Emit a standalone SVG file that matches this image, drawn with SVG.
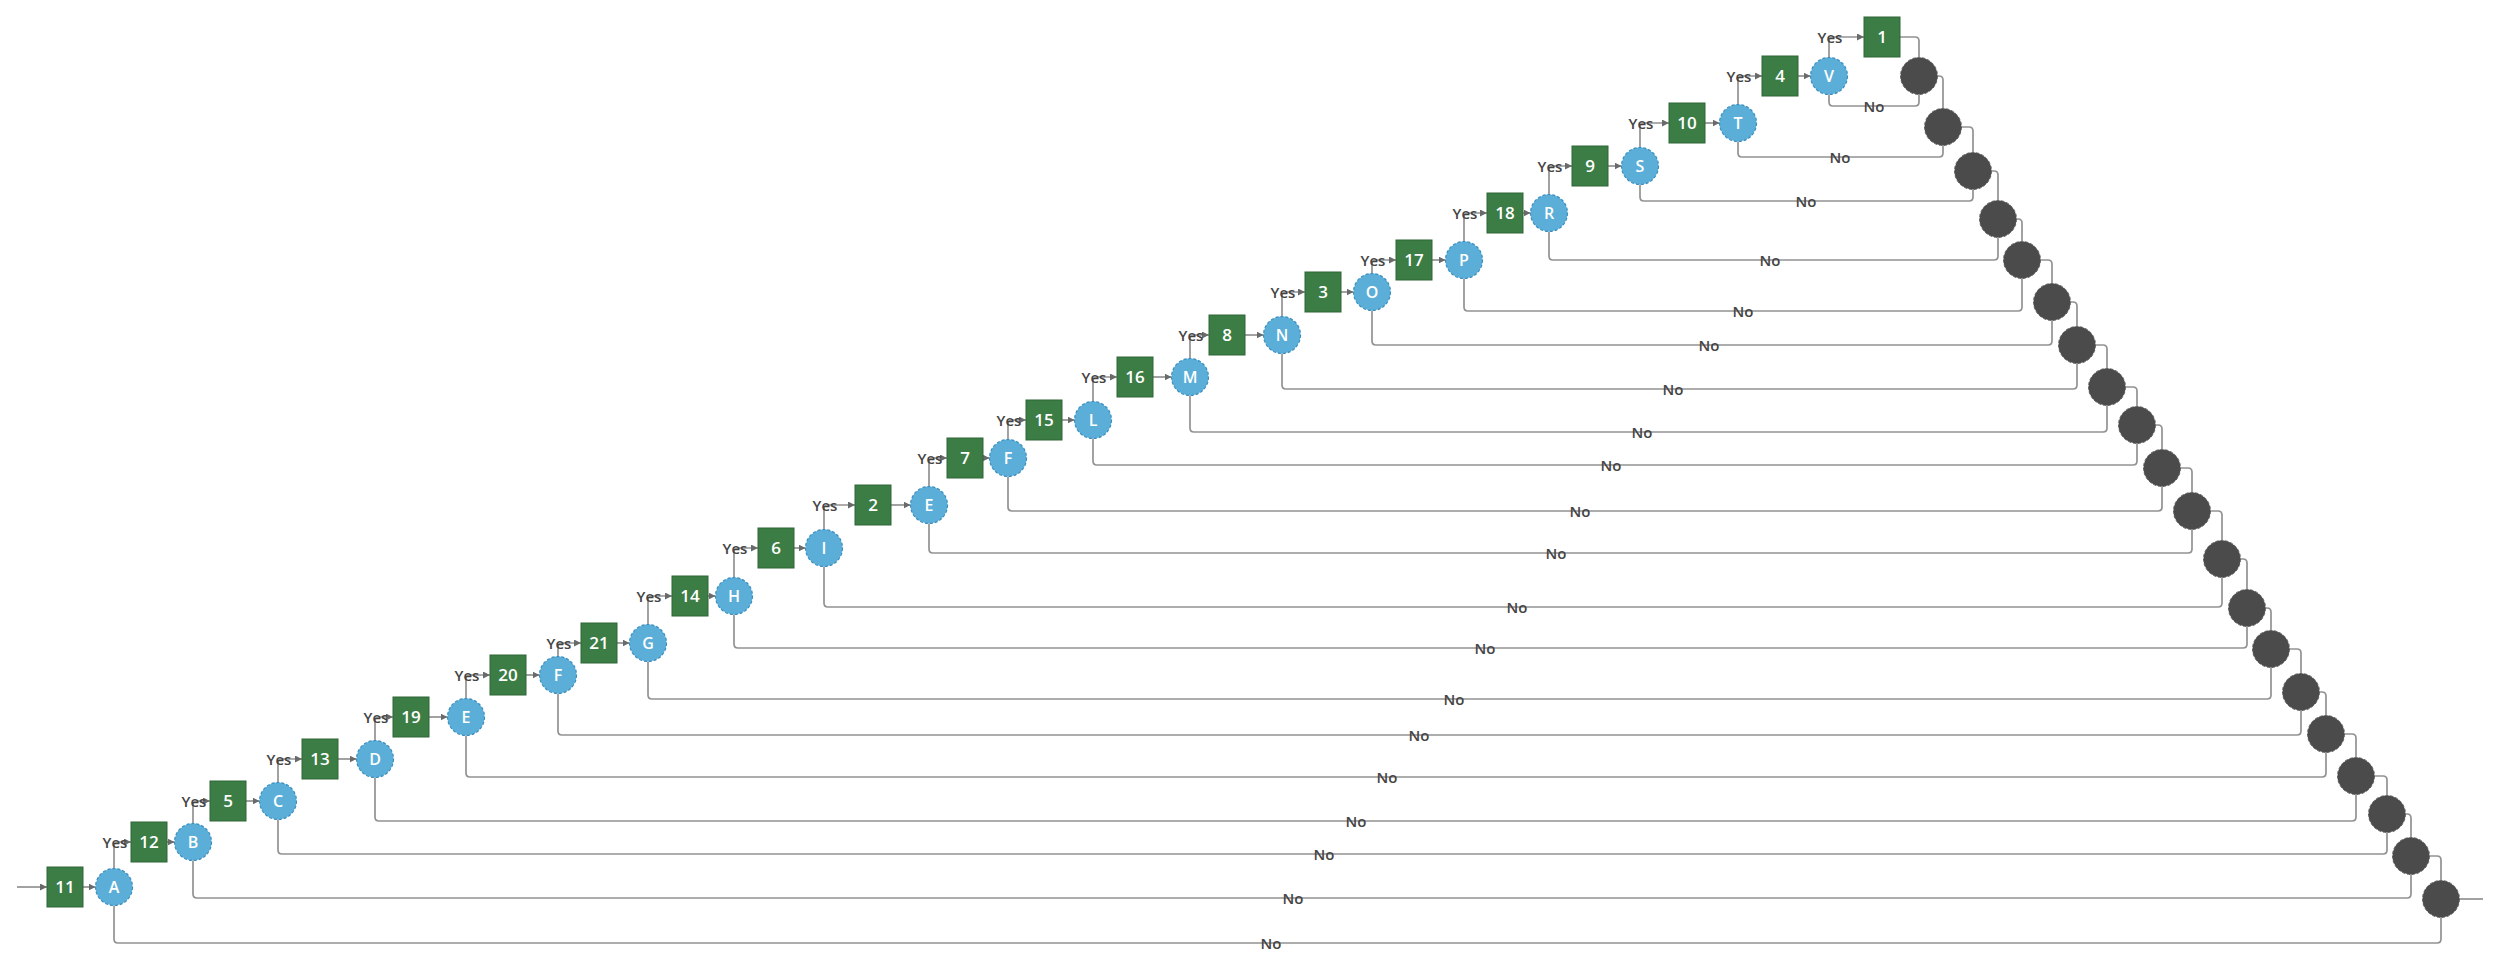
<svg xmlns="http://www.w3.org/2000/svg" width="2498" height="979" viewBox="0 0 2498 979">
<defs>
<marker id="arr" markerUnits="userSpaceOnUse" markerWidth="7" markerHeight="7" refX="7" refY="3.5" orient="auto">
<path d="M0,0 L7,3.5 L0,7 z" fill="#6a6a6a"/>
</marker>
<style>
.bg{fill:#ffffff}
.ln{fill:none;stroke:#929292;stroke-width:1.7}
.ya{marker-end:url(#arr)}
.sq{fill:#3c7d45;stroke:#2e6636;stroke-width:1}
.dc{fill:#5aaed7;stroke:#3b8fc0;stroke-width:1.2;stroke-dasharray:3 2}
.mg{fill:#4b4b4b;stroke:#5e5e5e;stroke-width:1;stroke-dasharray:3 2}
.st{font-family:"Open Sans","Liberation Sans",sans-serif;font-size:17px;font-weight:600;fill:#ffffff;text-anchor:middle}
.ct{font-family:"Open Sans","Liberation Sans",sans-serif;font-size:16px;font-weight:600;fill:#ffffff;text-anchor:middle}
.lb{font-family:"Open Sans","Liberation Sans",sans-serif;font-size:15px;font-weight:600;fill:#444444;text-anchor:middle}
</style>
</defs>
<rect class="bg" x="0" y="0" width="2498" height="979"/>
<g id="connectors">
<path class="ln ya" d="M17,887 H47"/>
<path class="ln ya" d="M83,887 H95.5"/>
<path class="ln ya" d="M167,842 H174.5"/>
<path class="ln ya" d="M246,801 H259.5"/>
<path class="ln ya" d="M338,759 H356.5"/>
<path class="ln ya" d="M429,717 H447.5"/>
<path class="ln ya" d="M526,675 H539.5"/>
<path class="ln ya" d="M617,643 H629.5"/>
<path class="ln ya" d="M708,596 H715.5"/>
<path class="ln ya" d="M794,548 H805.5"/>
<path class="ln ya" d="M891,505 H910.5"/>
<path class="ln ya" d="M983,458 H989.5"/>
<path class="ln ya" d="M1062,420 H1074.5"/>
<path class="ln ya" d="M1153,377 H1171.5"/>
<path class="ln ya" d="M1245,335 H1263.5"/>
<path class="ln ya" d="M1341,292 H1353.5"/>
<path class="ln ya" d="M1432,260 H1445.5"/>
<path class="ln ya" d="M1523,213 H1530.5"/>
<path class="ln ya" d="M1608,166 H1621.5"/>
<path class="ln ya" d="M1705,123 H1719.5"/>
<path class="ln ya" d="M1798,76 H1810.5"/>
<path class="ln ya" d="M114,868.5 V846 Q114,842 118,842 H131"/>
<path class="ln ya" d="M193,823.5 V805 Q193,801 197,801 H210"/>
<path class="ln ya" d="M278,782.5 V763 Q278,759 282,759 H302"/>
<path class="ln ya" d="M375,740.5 V721 Q375,717 379,717 H393"/>
<path class="ln ya" d="M466,698.5 V679 Q466,675 470,675 H490"/>
<path class="ln ya" d="M558,656.5 V647 Q558,643 562,643 H581"/>
<path class="ln ya" d="M648,624.5 V600 Q648,596 652,596 H672"/>
<path class="ln ya" d="M734,577.5 V552 Q734,548 738,548 H758"/>
<path class="ln ya" d="M824,529.5 V509 Q824,505 828,505 H855"/>
<path class="ln ya" d="M929,486.5 V462 Q929,458 933,458 H947"/>
<path class="ln ya" d="M1008,439.5 V424 Q1008,420 1012,420 H1026"/>
<path class="ln ya" d="M1093,401.5 V381 Q1093,377 1097,377 H1117"/>
<path class="ln ya" d="M1190,358.5 V339 Q1190,335 1194,335 H1209"/>
<path class="ln ya" d="M1282,316.5 V296 Q1282,292 1286,292 H1305"/>
<path class="ln ya" d="M1372,273.5 V264 Q1372,260 1376,260 H1396"/>
<path class="ln ya" d="M1464,241.5 V217 Q1464,213 1468,213 H1487"/>
<path class="ln ya" d="M1549,194.5 V170 Q1549,166 1553,166 H1572"/>
<path class="ln ya" d="M1640,147.5 V127 Q1640,123 1644,123 H1669"/>
<path class="ln ya" d="M1738,104.5 V80 Q1738,76 1742,76 H1762"/>
<path class="ln ya" d="M1829,57.5 V41 Q1829,37 1833,37 H1864"/>
<path class="ln" d="M1829,94.5 V102 Q1829,106 1833,106 H1915 Q1919,106 1919,102 V94.5"/>
<path class="ln" d="M1738,141.5 V153 Q1738,157 1742,157 H1939 Q1943,157 1943,153 V145.5"/>
<path class="ln" d="M1640,184.5 V197 Q1640,201 1644,201 H1969 Q1973,201 1973,197 V189.5"/>
<path class="ln" d="M1549,231.5 V256 Q1549,260 1553,260 H1994 Q1998,260 1998,256 V237.5"/>
<path class="ln" d="M1464,278.5 V307 Q1464,311 1468,311 H2018 Q2022,311 2022,307 V278.5"/>
<path class="ln" d="M1372,310.5 V341 Q1372,345 1376,345 H2048 Q2052,345 2052,341 V320.5"/>
<path class="ln" d="M1282,353.5 V385 Q1282,389 1286,389 H2073 Q2077,389 2077,385 V363.5"/>
<path class="ln" d="M1190,395.5 V428 Q1190,432 1194,432 H2103 Q2107,432 2107,428 V405.5"/>
<path class="ln" d="M1093,438.5 V461 Q1093,465 1097,465 H2133 Q2137,465 2137,461 V443.5"/>
<path class="ln" d="M1008,476.5 V507 Q1008,511 1012,511 H2158 Q2162,511 2162,507 V486.5"/>
<path class="ln" d="M929,523.5 V549 Q929,553 933,553 H2188 Q2192,553 2192,549 V529.5"/>
<path class="ln" d="M824,566.5 V603 Q824,607 828,607 H2218 Q2222,607 2222,603 V577.5"/>
<path class="ln" d="M734,614.5 V644 Q734,648 738,648 H2243 Q2247,648 2247,644 V626.5"/>
<path class="ln" d="M648,661.5 V695 Q648,699 652,699 H2267 Q2271,699 2271,695 V667.5"/>
<path class="ln" d="M558,693.5 V731 Q558,735 562,735 H2297 Q2301,735 2301,731 V710.5"/>
<path class="ln" d="M466,735.5 V773 Q466,777 470,777 H2322 Q2326,777 2326,773 V752.5"/>
<path class="ln" d="M375,777.5 V817 Q375,821 379,821 H2352 Q2356,821 2356,817 V794.5"/>
<path class="ln" d="M278,819.5 V850 Q278,854 282,854 H2383 Q2387,854 2387,850 V832.5"/>
<path class="ln" d="M193,860.5 V894 Q193,898 197,898 H2407 Q2411,898 2411,894 V874.5"/>
<path class="ln" d="M114,905.5 V939 Q114,943 118,943 H2437 Q2441,943 2441,939 V917.5"/>
<path class="ln" d="M1900,37 H1915 Q1919,37 1919,41 V57.5"/>
<path class="ln" d="M1937.5,76 H1939 Q1943,76 1943,80 V108.5"/>
<path class="ln" d="M1961.5,127 H1969 Q1973,127 1973,131 V152.5"/>
<path class="ln" d="M1991.5,171 H1994 Q1998,171 1998,175 V200.5"/>
<path class="ln" d="M2016.5,219 H2018 Q2022,219 2022,223 V241.5"/>
<path class="ln" d="M2040.5,260 H2048 Q2052,260 2052,264 V283.5"/>
<path class="ln" d="M2070.5,302 H2073 Q2077,302 2077,306 V326.5"/>
<path class="ln" d="M2095.5,345 H2103 Q2107,345 2107,349 V368.5"/>
<path class="ln" d="M2125.5,387 H2133 Q2137,387 2137,391 V406.5"/>
<path class="ln" d="M2155.5,425 H2158 Q2162,425 2162,429 V449.5"/>
<path class="ln" d="M2180.5,468 H2188 Q2192,468 2192,472 V492.5"/>
<path class="ln" d="M2210.5,511 H2218 Q2222,511 2222,515 V540.5"/>
<path class="ln" d="M2240.5,559 H2243 Q2247,559 2247,563 V589.5"/>
<path class="ln" d="M2265.5,608 H2267 Q2271,608 2271,612 V630.5"/>
<path class="ln" d="M2289.5,649 H2297 Q2301,649 2301,653 V673.5"/>
<path class="ln" d="M2319.5,692 H2322 Q2326,692 2326,696 V715.5"/>
<path class="ln" d="M2344.5,734 H2352 Q2356,734 2356,738 V757.5"/>
<path class="ln" d="M2374.5,776 H2383 Q2387,776 2387,780 V795.5"/>
<path class="ln" d="M2405.5,814 H2407 Q2411,814 2411,818 V837.5"/>
<path class="ln" d="M2429.5,856 H2437 Q2441,856 2441,860 V880.5"/>
<path class="ln" d="M2459.5,899 H2483"/>
<text class="lb" x="115" y="848">Yes</text>
<text class="lb" x="194" y="807">Yes</text>
<text class="lb" x="279" y="765">Yes</text>
<text class="lb" x="376" y="723">Yes</text>
<text class="lb" x="467" y="681">Yes</text>
<text class="lb" x="559" y="649">Yes</text>
<text class="lb" x="649" y="602">Yes</text>
<text class="lb" x="735" y="554">Yes</text>
<text class="lb" x="825" y="511">Yes</text>
<text class="lb" x="930" y="464">Yes</text>
<text class="lb" x="1009" y="426">Yes</text>
<text class="lb" x="1094" y="383">Yes</text>
<text class="lb" x="1191" y="341">Yes</text>
<text class="lb" x="1283" y="298">Yes</text>
<text class="lb" x="1373" y="266">Yes</text>
<text class="lb" x="1465" y="219">Yes</text>
<text class="lb" x="1550" y="172">Yes</text>
<text class="lb" x="1641" y="129">Yes</text>
<text class="lb" x="1739" y="82">Yes</text>
<text class="lb" x="1830" y="43">Yes</text>
<text class="lb" x="1874" y="112">No</text>
<text class="lb" x="1840" y="163">No</text>
<text class="lb" x="1806" y="207">No</text>
<text class="lb" x="1770" y="266">No</text>
<text class="lb" x="1743" y="317">No</text>
<text class="lb" x="1709" y="351">No</text>
<text class="lb" x="1673" y="395">No</text>
<text class="lb" x="1642" y="438">No</text>
<text class="lb" x="1611" y="471">No</text>
<text class="lb" x="1580" y="517">No</text>
<text class="lb" x="1556" y="559">No</text>
<text class="lb" x="1517" y="613">No</text>
<text class="lb" x="1485" y="654">No</text>
<text class="lb" x="1454" y="705">No</text>
<text class="lb" x="1419" y="741">No</text>
<text class="lb" x="1387" y="783">No</text>
<text class="lb" x="1356" y="827">No</text>
<text class="lb" x="1324" y="860">No</text>
<text class="lb" x="1293" y="904">No</text>
<text class="lb" x="1271" y="949">No</text>
</g>
<g id="node-11"><rect class="sq" x="47" y="867" width="36" height="40"/><text class="st" x="65" y="893">11</text></g>
<g id="node-12"><rect class="sq" x="131" y="822" width="36" height="40"/><text class="st" x="149" y="848">12</text></g>
<g id="node-5"><rect class="sq" x="210" y="781" width="36" height="40"/><text class="st" x="228" y="807">5</text></g>
<g id="node-13"><rect class="sq" x="302" y="739" width="36" height="40"/><text class="st" x="320" y="765">13</text></g>
<g id="node-19"><rect class="sq" x="393" y="697" width="36" height="40"/><text class="st" x="411" y="723">19</text></g>
<g id="node-20"><rect class="sq" x="490" y="655" width="36" height="40"/><text class="st" x="508" y="681">20</text></g>
<g id="node-21"><rect class="sq" x="581" y="623" width="36" height="40"/><text class="st" x="599" y="649">21</text></g>
<g id="node-14"><rect class="sq" x="672" y="576" width="36" height="40"/><text class="st" x="690" y="602">14</text></g>
<g id="node-6"><rect class="sq" x="758" y="528" width="36" height="40"/><text class="st" x="776" y="554">6</text></g>
<g id="node-2"><rect class="sq" x="855" y="485" width="36" height="40"/><text class="st" x="873" y="511">2</text></g>
<g id="node-7"><rect class="sq" x="947" y="438" width="36" height="40"/><text class="st" x="965" y="464">7</text></g>
<g id="node-15"><rect class="sq" x="1026" y="400" width="36" height="40"/><text class="st" x="1044" y="426">15</text></g>
<g id="node-16"><rect class="sq" x="1117" y="357" width="36" height="40"/><text class="st" x="1135" y="383">16</text></g>
<g id="node-8"><rect class="sq" x="1209" y="315" width="36" height="40"/><text class="st" x="1227" y="341">8</text></g>
<g id="node-3"><rect class="sq" x="1305" y="272" width="36" height="40"/><text class="st" x="1323" y="298">3</text></g>
<g id="node-17"><rect class="sq" x="1396" y="240" width="36" height="40"/><text class="st" x="1414" y="266">17</text></g>
<g id="node-18"><rect class="sq" x="1487" y="193" width="36" height="40"/><text class="st" x="1505" y="219">18</text></g>
<g id="node-9"><rect class="sq" x="1572" y="146" width="36" height="40"/><text class="st" x="1590" y="172">9</text></g>
<g id="node-10"><rect class="sq" x="1669" y="103" width="36" height="40"/><text class="st" x="1687" y="129">10</text></g>
<g id="node-4"><rect class="sq" x="1762" y="56" width="36" height="40"/><text class="st" x="1780" y="82">4</text></g>
<g id="node-1"><rect class="sq" x="1864" y="17" width="36" height="40"/><text class="st" x="1882" y="43">1</text></g>
<g id="node-A"><circle class="dc" cx="114" cy="887" r="18.5"/><text class="ct" x="114" y="893">A</text></g>
<g id="node-B"><circle class="dc" cx="193" cy="842" r="18.5"/><text class="ct" x="193" y="848">B</text></g>
<g id="node-C"><circle class="dc" cx="278" cy="801" r="18.5"/><text class="ct" x="278" y="807">C</text></g>
<g id="node-D"><circle class="dc" cx="375" cy="759" r="18.5"/><text class="ct" x="375" y="765">D</text></g>
<g id="node-E-1"><circle class="dc" cx="466" cy="717" r="18.5"/><text class="ct" x="466" y="723">E</text></g>
<g id="node-F-1"><circle class="dc" cx="558" cy="675" r="18.5"/><text class="ct" x="558" y="681">F</text></g>
<g id="node-G"><circle class="dc" cx="648" cy="643" r="18.5"/><text class="ct" x="648" y="649">G</text></g>
<g id="node-H"><circle class="dc" cx="734" cy="596" r="18.5"/><text class="ct" x="734" y="602">H</text></g>
<g id="node-I"><circle class="dc" cx="824" cy="548" r="18.5"/><text class="ct" x="824" y="554">I</text></g>
<g id="node-E-2"><circle class="dc" cx="929" cy="505" r="18.5"/><text class="ct" x="929" y="511">E</text></g>
<g id="node-F-2"><circle class="dc" cx="1008" cy="458" r="18.5"/><text class="ct" x="1008" y="464">F</text></g>
<g id="node-L"><circle class="dc" cx="1093" cy="420" r="18.5"/><text class="ct" x="1093" y="426">L</text></g>
<g id="node-M"><circle class="dc" cx="1190" cy="377" r="18.5"/><text class="ct" x="1190" y="383">M</text></g>
<g id="node-N"><circle class="dc" cx="1282" cy="335" r="18.5"/><text class="ct" x="1282" y="341">N</text></g>
<g id="node-O"><circle class="dc" cx="1372" cy="292" r="18.5"/><text class="ct" x="1372" y="298">O</text></g>
<g id="node-P"><circle class="dc" cx="1464" cy="260" r="18.5"/><text class="ct" x="1464" y="266">P</text></g>
<g id="node-R"><circle class="dc" cx="1549" cy="213" r="18.5"/><text class="ct" x="1549" y="219">R</text></g>
<g id="node-S"><circle class="dc" cx="1640" cy="166" r="18.5"/><text class="ct" x="1640" y="172">S</text></g>
<g id="node-T"><circle class="dc" cx="1738" cy="123" r="18.5"/><text class="ct" x="1738" y="129">T</text></g>
<g id="node-V"><circle class="dc" cx="1829" cy="76" r="18.5"/><text class="ct" x="1829" y="82">V</text></g>
<g id="merge-1"><circle class="mg" cx="1919" cy="76" r="18.5"/></g>
<g id="merge-2"><circle class="mg" cx="1943" cy="127" r="18.5"/></g>
<g id="merge-3"><circle class="mg" cx="1973" cy="171" r="18.5"/></g>
<g id="merge-4"><circle class="mg" cx="1998" cy="219" r="18.5"/></g>
<g id="merge-5"><circle class="mg" cx="2022" cy="260" r="18.5"/></g>
<g id="merge-6"><circle class="mg" cx="2052" cy="302" r="18.5"/></g>
<g id="merge-7"><circle class="mg" cx="2077" cy="345" r="18.5"/></g>
<g id="merge-8"><circle class="mg" cx="2107" cy="387" r="18.5"/></g>
<g id="merge-9"><circle class="mg" cx="2137" cy="425" r="18.5"/></g>
<g id="merge-10"><circle class="mg" cx="2162" cy="468" r="18.5"/></g>
<g id="merge-11"><circle class="mg" cx="2192" cy="511" r="18.5"/></g>
<g id="merge-12"><circle class="mg" cx="2222" cy="559" r="18.5"/></g>
<g id="merge-13"><circle class="mg" cx="2247" cy="608" r="18.5"/></g>
<g id="merge-14"><circle class="mg" cx="2271" cy="649" r="18.5"/></g>
<g id="merge-15"><circle class="mg" cx="2301" cy="692" r="18.5"/></g>
<g id="merge-16"><circle class="mg" cx="2326" cy="734" r="18.5"/></g>
<g id="merge-17"><circle class="mg" cx="2356" cy="776" r="18.5"/></g>
<g id="merge-18"><circle class="mg" cx="2387" cy="814" r="18.5"/></g>
<g id="merge-19"><circle class="mg" cx="2411" cy="856" r="18.5"/></g>
<g id="merge-20"><circle class="mg" cx="2441" cy="899" r="18.5"/></g>
</svg>
